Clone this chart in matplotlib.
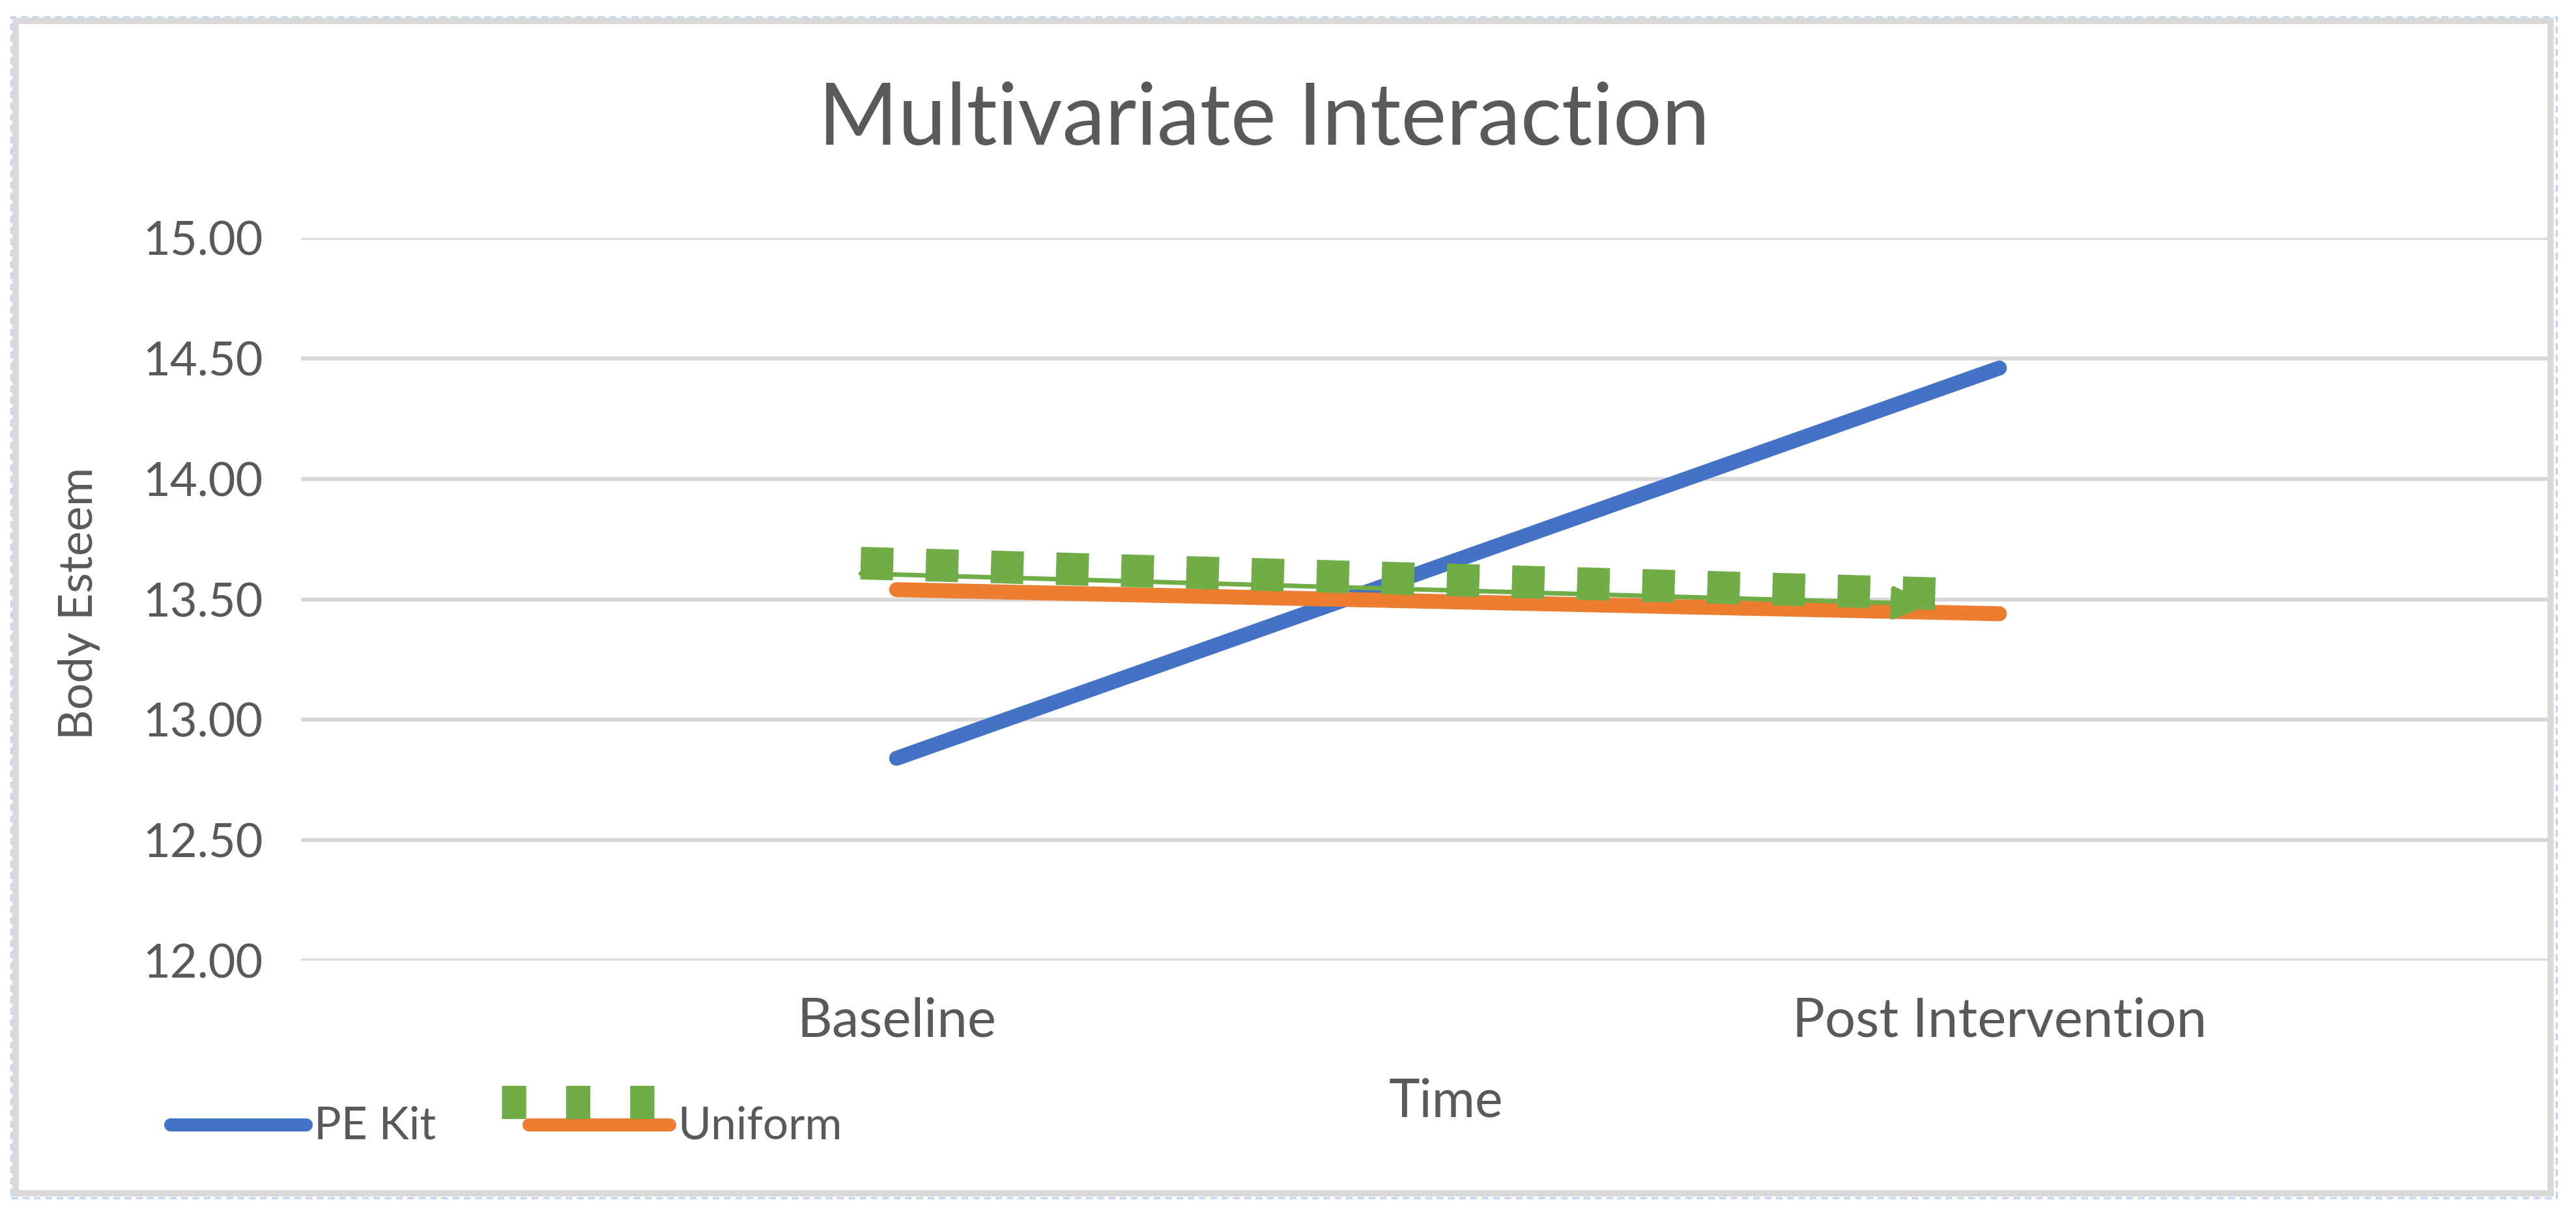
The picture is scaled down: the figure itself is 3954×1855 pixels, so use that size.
import numpy as np
import matplotlib
matplotlib.use('Agg')
import matplotlib.pyplot as plt
from matplotlib.lines import Line2D
from matplotlib.patches import Rectangle
from matplotlib.transforms import offset_copy

# data
time_points = ['Baseline', 'Post Intervention']
pe_kit = [12.84, 14.46]
uniform = [13.54, 13.44]
extra = [13.65, 13.52]          # green square-dot series (no legend label)
y_ticks = [12.0, 12.5, 13.0, 13.5, 14.0, 14.5, 15.0]

TXT = '#595959'
GRID = '#d9d9d9'
BLUE = '#4472c4'
ORANGE = '#ed7d31'
GREEN = '#70ad47'

plt.rcParams['font.family'] = ['Lato', 'DejaVu Sans']

W, H = 3954, 1855
fig = plt.figure(figsize=(W / 100, H / 100), dpi=100)


def fx(px):
    return px / W


def fy(py):
    return 1 - py / H


# outer chart frame (gray) + dashed selection outline
fig.patches.append(Rectangle((fx(17), fy(1838)), fx(3924 - 17), (1838 - 26) / H,
                             transform=fig.transFigure, fill=False,
                             ec='#c6d4ee', lw=2.5, ls=(0, (3, 2))))
fig.patches.append(Rectangle((fx(24), fy(1831)), fx(3915 - 24), (1831 - 32) / H,
                             transform=fig.transFigure, fill=False,
                             ec=GRID, lw=7))

left, right, top, bottom = 462, 3912, 365, 1474
ax = fig.add_axes([fx(left), fy(bottom), fx(right - left), (bottom - top) / H])

x = np.arange(len(time_points))
ax.plot(x, pe_kit, color=BLUE, lw=16.5, solid_capstyle='round', zorder=3)
ax.plot(x, uniform, color=ORANGE, lw=16.5, solid_capstyle='round', zorder=3)

# green series: thick square dots with a thin arrowed line slightly below
shift = offset_copy(ax.transData, fig=fig, x=-55, y=0, units='dots')
ax.plot(x, extra, color=GREEN, lw=36, linestyle=(0, (1, 1)),
        dash_capstyle='butt', transform=shift, zorder=4)
thin = offset_copy(ax.transData, fig=fig, x=-55, y=-16, units='dots')
ax.annotate('', xy=(x[1], extra[1]), xytext=(x[0], extra[0]),
            xycoords=thin, textcoords=thin,
            arrowprops=dict(arrowstyle='-|>,head_length=0.45,head_width=0.2',
                            color=GREEN, lw=5, mutation_scale=80,
                            shrinkA=0, shrinkB=36),
            zorder=5)

ax.set_xlim(-0.54, 1.498)
ax.set_ylim(12.0, 15.0)
ax.set_yticks(y_ticks)
ax.set_yticklabels([f'{v:.2f}' for v in y_ticks])
ax.set_xticks(x)
ax.set_xticklabels(time_points)
ax.tick_params(axis='both', length=0, colors=TXT)
ax.tick_params(axis='y', pad=42, labelsize=52)
ax.tick_params(axis='x', pad=40, labelsize=60)
ax.grid(axis='y', color=GRID, lw=4.5)
ax.set_axisbelow(True)
for s in ax.spines.values():
    s.set_visible(False)

fig.text(fx(1940), fy(222), 'Multivariate Interaction', ha='center', va='baseline',
         fontsize=95, color=TXT)
fig.text(fx(122), fy(926), 'Body Esteem', rotation=90, ha='center', va='center',
         fontsize=52, color=TXT)
fig.text(fx(2220), fy(1690), 'Time', ha='center', va='center', fontsize=58, color=TXT)

# legend drawn by hand to keep the overlapping look of the original
fig.add_artist(Line2D([fx(262), fx(470)], [fy(1726), fy(1726)], color=BLUE, lw=14.5,
                      solid_capstyle='round', transform=fig.transFigure))
fig.text(fx(482), fy(1747), 'PE Kit', ha='left', va='baseline', fontsize=50, color=TXT)
fig.add_artist(Line2D([fx(812), fx(1028)], [fy(1726), fy(1726)], color=ORANGE, lw=14.5,
                      solid_capstyle='round', transform=fig.transFigure))
fig.add_artist(Line2D([fx(770), fx(1005)], [fy(1691), fy(1691)], color=GREEN, lw=36.7,
                      linestyle=(0, (0.73, 1.2)), dash_capstyle='butt',
                      transform=fig.transFigure))
fig.text(fx(1040), fy(1747), 'Uniform', ha='left', va='baseline', fontsize=50, color=TXT)

fig.savefig('out.png', dpi=100)
